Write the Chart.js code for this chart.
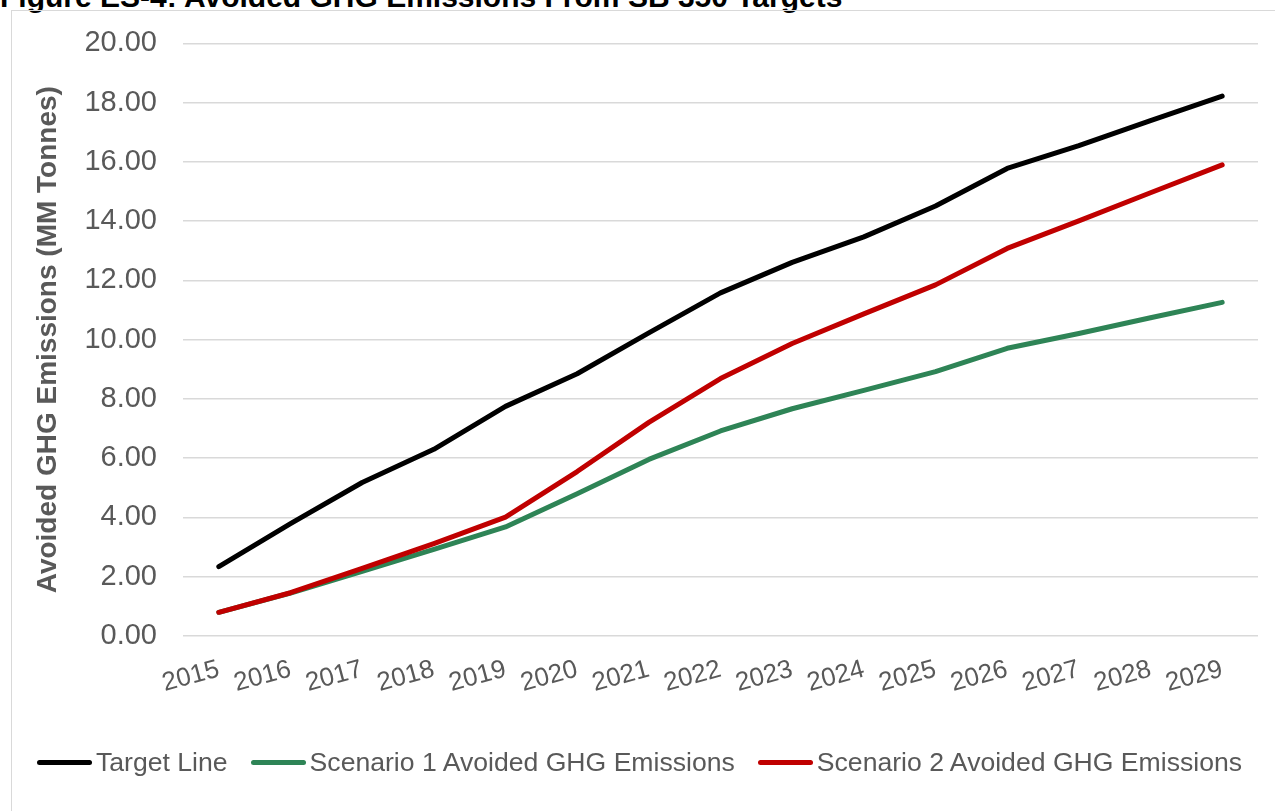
<!DOCTYPE html>
<html>
<head>
<meta charset="utf-8">
<script src="https://cdn.jsdelivr.net/npm/chart.js@4.4.1/dist/chart.umd.min.js"></script>
<style>
  html, body { margin: 0; padding: 0; background: #fff; overflow: hidden; }
  body { width: 1275px; height: 811px; position: relative; font-family: "Liberation Sans", Arial, sans-serif; }
  #title { position: absolute; left: 0; top: -18px; font-size: 30px; line-height: 30px; font-weight: bold; color: #000; white-space: nowrap; }
  #frame { position: absolute; left: 11px; top: 10px; width: 1400px; height: 900px; border: 1.5px solid #d9d9d9; box-sizing: border-box; }
  #wrap { position: absolute; left: 0; top: 0; width: 1275px; height: 811px; }
  #legend { position: absolute; left: 37px; top: 747px; display: flex; align-items: center; font-size: 26.6px; color: #595959; white-space: nowrap; }
  .item { display: flex; align-items: center; margin-right: 23px; }
  .swatch { width: 55px; height: 5px; border-radius: 3px; margin-right: 4px; }
</style>
</head>
<body>
<div id="title">Figure ES-4: Avoided GHG Emissions From SB 350 Targets</div>
<div id="frame"></div>
<div id="wrap"><canvas id="chart" width="1275" height="811"></canvas></div>
<div id="legend"></div>
<script>
const years = ["2015", "2016", "2017", "2018", "2019", "2020", "2021", "2022",
  "2023", "2024", "2025", "2026", "2027", "2028", "2029"];

const targetLine = [2.34, 3.79, 5.18, 6.30, 7.75, 8.85, 10.23, 11.58, 12.61, 13.47, 14.51, 15.78, 16.55, 17.39, 18.22];
const scenario1 = [0.80, 1.45, 2.18, 2.92, 3.68, 4.80, 5.96, 6.92, 7.67, 8.29, 8.92, 9.71, 10.21, 10.74, 11.26];
const scenario2 = [0.80, 1.46, 2.28, 3.12, 4.01, 5.55, 7.21, 8.69, 9.87, 10.87, 11.85, 13.08, 14.01, 14.96, 15.90];

const seriesNames = ["Target Line", "Scenario 1 Avoided GHG Emissions", "Scenario 2 Avoided GHG Emissions"];
const seriesColors = ["#000000", "#2e8456", "#c00000"];

const yMin = 0, yMax = 20, yStep = 2;
const yTitle = "Avoided GHG Emissions (MM Tonnes)";

const font = "'Liberation Sans', Arial, sans-serif";
const grey = "#595959";

function makeLine(i, data) {
  return {
    label: seriesNames[i],
    data,
    borderColor: seriesColors[i],
    backgroundColor: seriesColors[i],
    borderWidth: 5,
    borderCapStyle: "round",
    borderJoinStyle: "round",
    pointRadius: 0,
    pointHoverRadius: 0,
    tension: 0,
    fill: false,
    order: 2 - i
  };
}

new Chart(document.getElementById("chart"), {
  type: "line",
  data: {
    labels: years,
    datasets: [
      makeLine(0, targetLine),
      makeLine(1, scenario1),
      makeLine(2, scenario2)
    ]
  },
  options: {
    responsive: false,
    animation: false,
    layout: { padding: { top: 31, right: 17, bottom: 0, left: 0 } },
    plugins: {
      legend: { display: false },
      tooltip: { enabled: false }
    },
    scales: {
      x: {
        offset: true,
        grid: { display: false, drawTicks: false },
        border: { display: false },
        ticks: {
          color: grey,
          font: { family: font, size: 26 },
          minRotation: 15,
          maxRotation: 15,
          autoSkip: false,
          padding: 18
        },
        afterFit: s => { s.height = 175; }
      },
      y: {
        min: yMin,
        max: yMax,
        grid: { color: "#d9d9d9", lineWidth: 1.5, drawTicks: false },
        border: { display: false },
        ticks: {
          stepSize: yStep,
          color: grey,
          font: { family: font, size: 29 },
          padding: 26,
          callback: v => Number(v).toFixed(2)
        },
        title: {
          display: true,
          text: yTitle,
          color: grey,
          font: { family: font, size: 28, weight: "bold" },
          padding: { top: 31, bottom: 0 }
        },
        afterFit: s => { s.width = 183; }
      }
    }
  }
});

const legend = document.getElementById("legend");
seriesNames.forEach((name, i) => {
  const item = document.createElement("div");
  item.className = "item";
  const sw = document.createElement("span");
  sw.className = "swatch";
  sw.style.background = seriesColors[i];
  const txt = document.createElement("span");
  txt.textContent = name;
  item.appendChild(sw);
  item.appendChild(txt);
  legend.appendChild(item);
});
</script>
</body>
</html>
